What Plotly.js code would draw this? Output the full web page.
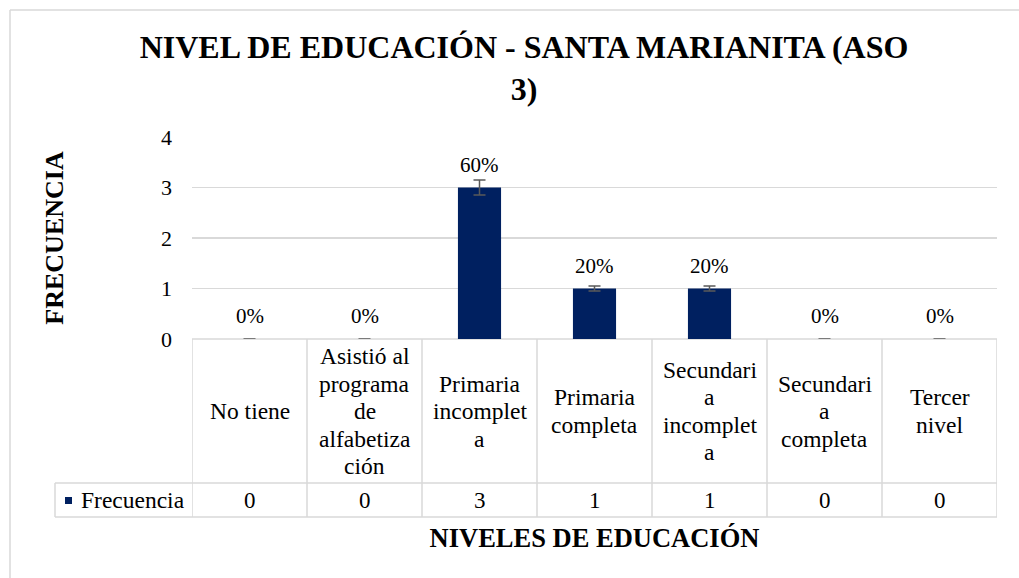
<!DOCTYPE html>
<html>
<head>
<meta charset="utf-8">
<script src="https://cdn.plot.ly/plotly-3.0.1.min.js"></script>
<style>html,body{margin:0;padding:0;background:#fff;}#chart{width:1019px;height:578px;}</style>
</head>
<body>
<div id="chart"></div>
<script>
// ---- data ----
const categories = ['No tiene', 'Asistió al programa de alfabetización', 'Primaria incompleta', 'Primaria completa', 'Secundaria incompleta', 'Secundaria completa', 'Tercer nivel'];
const categoryLines = [['No tiene'], ['Asistió al', 'programa', 'de', 'alfabetiza', 'ción'], ['Primaria', 'incomplet', 'a'], ['Primaria', 'completa'], ['Secundari', 'a', 'incomplet', 'a'], ['Secundari', 'a', 'completa'], ['Tercer', 'nivel']];
const values = [0, 0, 3, 1, 1, 0, 0];
const seriesName = 'Frecuencia';
const yTicks = [0, 1, 2, 3, 4];
const chartTitle = '<b>NIVEL DE EDUCACIÓN - SANTA MARIANITA (ASO<br>3)</b>';
const xTitle = 'NIVELES DE EDUCACIÓN';
const yTitle = 'FRECUENCIA';

// ---- layout helpers ----
const W = 1019, H = 578;
const M = {l: 192, r: 22, t: 137, b: 239};
const PW = W - M.l - M.r, PH = H - M.t - M.b;
const px = v => (v - M.l) / PW;          // pixel x -> paper
const py = v => (H - M.b - v) / PH;      // pixel y -> paper
const FONT = 'Times New Roman, Liberation Serif, DejaVu Serif, serif';
const BAR = '#002060';
const LINE = '#d9d9d9';
const font = (size, bold) => ({family: FONT, size: size, color: '#000', weight: bold ? 'bold' : 'normal'});

const total = values.reduce((a, b) => a + b, 0);
const pct = values.map(v => Math.round(v / total * 100) + '%');

const n = categories.length;
const tableTop = H - M.b, headBottom = 483, tableBottom = 517, legendLeft = 55;
const lineGap = 27.5;

const shapes = [];
const L = (x0, y0, x1, y1, xref) => shapes.push({type: 'line', xref: xref || 'paper', yref: 'paper', x0, y0, x1, y1, line: {color: LINE, width: 1.5}, layer: 'below'});
// chart outer border
L(px(10), py(10), px(1030), py(10));
L(px(10), py(10), px(10), py(600));
// table horizontal lines
L(0, py(tableTop), 1, py(tableTop));
L(px(legendLeft), py(headBottom), 1, py(headBottom));
L(px(legendLeft), py(tableBottom), 1, py(tableBottom));
// table vertical lines
L(px(legendLeft), py(headBottom), px(legendLeft), py(tableBottom));
for (let i = 0; i <= n; i++) L(i - 0.5, py(tableTop), i - 0.5, py(tableBottom), 'x');
// legend key
shapes.push({type: 'rect', xref: 'paper', yref: 'paper', x0: px(65), x1: px(72), y0: py(497), y1: py(504), fillcolor: BAR, line: {width: 0}});

const annotations = [];
const headMid = (tableTop + headBottom) / 2, rowMid = (headBottom + tableBottom) / 2;
values.forEach((v, i) => {
  annotations.push({x: i, y: v, xref: 'x', yref: 'y', text: pct[i], showarrow: false, yanchor: 'middle', yshift: 23, font: font(21)});
  const lines = categoryLines[i];
  lines.forEach((t, k) => {
    const yy = headMid + (k - (lines.length - 1) / 2) * lineGap;
    annotations.push({x: i, y: py(yy), xref: 'x', yref: 'paper', text: t, showarrow: false, yanchor: 'middle', font: font(23.5)});
  });
  annotations.push({x: i, y: py(rowMid), xref: 'x', yref: 'paper', text: String(v), showarrow: false, yanchor: 'middle', font: font(23)});
});
annotations.push({x: px(79), y: py(rowMid), xref: 'paper', yref: 'paper', text: seriesName, showarrow: false, xanchor: 'left', yanchor: 'middle', font: font(23.5)});

const trace = {
  type: 'bar', x: categories, y: values, name: seriesName,
  marker: {color: BAR, line: {width: 0}},
  width: 0.375,
  error_y: {type: 'percent', value: 5, visible: true, color: '#595959', thickness: 1.5, width: 6},
  hoverinfo: 'skip'
};

const layout = {
  width: W, height: H,
  margin: M,
  paper_bgcolor: '#fff', plot_bgcolor: '#fff',
  showlegend: false,
  font: font(21),
  title: {text: chartTitle, font: font(32), xref: 'paper', x: px(524), xanchor: 'center', yref: 'container', y: 1 - 58 / H, yanchor: 'top'},
  xaxis: {type: 'category', range: [-0.5, n - 0.5], showticklabels: false, showgrid: false, zeroline: false, showline: false, ticks: '', automargin: false,
          title: {text: xTitle, font: font(26.5, true), standoff: 189}},
  yaxis: {range: [0, 4], tickvals: yTicks, showgrid: true, gridcolor: LINE, gridwidth: 1.3, zeroline: false, showline: false, ticks: '', automargin: false,
          ticklabelstandoff: 19, tickfont: font(22),
          title: {text: yTitle, font: font(26, true), standoff: 89}},
  shapes, annotations
};

Plotly.newPlot('chart', [trace], layout, {displayModeBar: false, staticPlot: true});
</script>
</body>
</html>
